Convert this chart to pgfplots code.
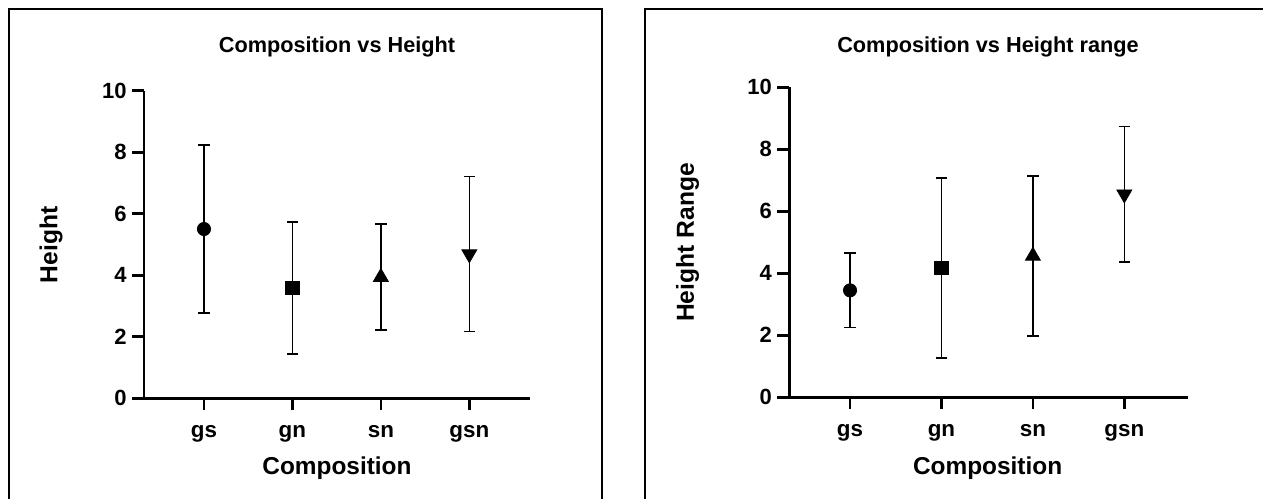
\documentclass[border=0pt]{standalone}
\usepackage{fontspec}
\setmainfont{Liberation Sans}
\usepackage{pgfplots}
\pgfplotsset{compat=1.18}

\pgfplotsset{
  gp/.style={
    scale only axis,
    axis lines=left,
    axis line style={-, line width=1.35pt, black},
    ymin=0, ymax=10, ytick={0,2,...,10},
    xtick={0,1,2,3},
    xticklabels={gs,gn,sn,gsn},
    tick align=outside,
    major tick length=6pt,
    tick style={line width=1.35pt, black},
    /pgf/number format/assume math mode=true,
    yticklabel style={font=\fontsize{11}{12}\selectfont\bfseries, xshift=0.8pt},
    xticklabel style={font=\fontsize{11.2}{13}\selectfont\bfseries, yshift=-4pt},
    clip=false,
  },
  ebar/.style={only marks, black,
    /pgfplots/error bars/y dir=both,
    /pgfplots/error bars/y explicit,
    /pgfplots/error bars/error bar style={line width=0.8pt, black},
    /pgfplots/error bars/error mark options={line width=0.8pt, mark size=2.9pt, black, rotate=90}},
}

\begin{document}
\begin{tikzpicture}
\useasboundingbox (0,0) rectangle (631.5pt,249pt);

% panel frames
\draw[line width=1pt] (4.5pt,-2pt) -- (4.5pt,244.5pt) -- (300.85pt,244.5pt) -- (300.85pt,-2pt);
\draw[line width=1pt] (322.5pt,-2pt) -- (322.5pt,244.4pt) -- (640pt,244.4pt);

% left panel
\begin{axis}[gp, at={(72pt,49.85pt)}, anchor=south west,
  width=193pt, height=153.75pt, xmin=-0.678, xmax=3.686]
  \addplot[ebar, mark=*, mark size=3.3pt, mark options={solid, fill=black}] coordinates {(0,5.505) +- (0,2.735)};
  \addplot[ebar, mark=square*, mark size=3.3pt, mark options={solid, fill=black}] coordinates {(1,3.595) +- (0,2.145)};
  \addplot[ebar, mark=triangle*, mark size=4.3pt, mark options={solid, fill=black}] coordinates {(2,3.94) +- (0,1.72)};
  \addplot[ebar, mark=triangle*, mark size=4.3pt, mark options={solid, fill=black, rotate=180}] coordinates {(3,4.69) +- (0,2.52)};
\end{axis}

% right panel
\begin{axis}[gp, at={(394.65pt,50.35pt)}, anchor=south west,
  width=199.15pt, height=155pt, xmin=-0.664, xmax=3.692]
  \addplot[ebar, mark=*, mark size=3.3pt, mark options={solid, fill=black}] coordinates {(0,3.45) +- (0,1.2)};
  \addplot[ebar, mark=square*, mark size=3.3pt, mark options={solid, fill=black}] coordinates {(1,4.175) +- (0,2.905)};
  \addplot[ebar, mark=triangle*, mark size=4.3pt, mark options={solid, fill=black}] coordinates {(2,4.56) +- (0,2.58)};
  \addplot[ebar, mark=triangle*, mark size=4.3pt, mark options={solid, fill=black, rotate=180}] coordinates {(3,6.55) +- (0,2.18)};
\end{axis}

% titles and axis labels
\node[anchor=base, font=\fontsize{10.85}{13}\selectfont\bfseries] at (168.5pt,222.75pt) {Composition vs Height};
\node[anchor=base, font=\fontsize{10.85}{13}\selectfont\bfseries] at (494pt,222.75pt) {Composition vs Height range};
\node[anchor=base, font=\fontsize{12.2}{14}\selectfont\bfseries] at (168.5pt,12pt) {Composition};
\node[anchor=base, font=\fontsize{12.2}{14}\selectfont\bfseries] at (493.8pt,12pt) {Composition};
\node[anchor=base, rotate=90, font=\fontsize{12.3}{14}\selectfont\bfseries] at (28.7pt,126.5pt) {Height};
\node[anchor=base, rotate=90, font=\fontsize{12.3}{14}\selectfont\bfseries] at (346.9pt,127.75pt) {Height Range};
\end{tikzpicture}
\end{document}
